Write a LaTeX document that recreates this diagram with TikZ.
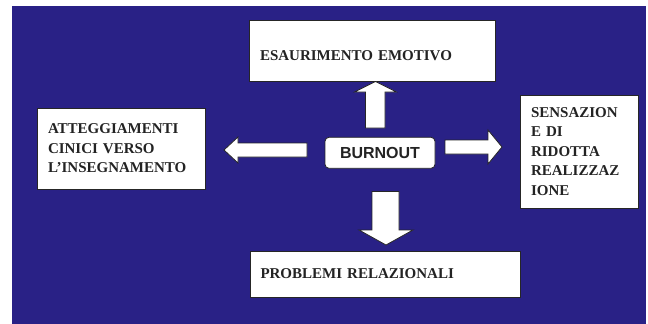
\documentclass[tikz,border=0pt]{standalone}
\usepackage{fontspec}
\setmainfont{Liberation Serif}
\setsansfont{Liberation Sans}
\usetikzlibrary{positioning}

\definecolor{bgblue}{RGB}{41,33,134}
\definecolor{inkgray}{RGB}{35,35,35}

\tikzset{
  box/.style={draw=black!85, fill=white, line width=0.8pt, align=left,
    inner xsep=11pt, text=inkgray,
    font=\fontsize{15}{19.4}\selectfont\bfseries},
  centerbox/.style={draw=black!85, fill=white, line width=0.8pt,
    rounded corners=4pt, text=inkgray,
    font=\sffamily\fontsize{16}{18}\selectfont\bfseries},
  blockarrow/.style={draw=black!85, fill=white, line width=0.8pt, line join=miter},
}

\begin{document}
\begin{tikzpicture}[x=1pt,y=-1pt]
    \useasboundingbox (0,0) rectangle (648,324);
    \fill[bgblue] (12,6) rectangle (646,324);
    % the five boxes
    \node[box, minimum width=246pt, minimum height=61pt, text width=224pt, text height=19pt, text depth=0pt] (emotivo) at (372,50.5) {ESAURIMENTO EMOTIVO};
    \node[box, minimum width=168pt, minimum height=81pt, text width=146pt] (cinici) at (121,148.5) {ATTEGGIAMENTI\\CINICI VERSO\\L'INSEGNAMENTO};
    \node[box, minimum width=118pt, minimum height=113pt, text width=96pt] (ridotta) at (579,151.5) {SENSAZION\\E DI\\RIDOTTA\\REALIZZAZ\\IONE};
    \node[box, minimum width=270pt, minimum height=46pt, text width=249pt, inner xsep=10.5pt] (relazioni) at (385,274) {PROBLEMI RELAZIONALI};
    \node[centerbox, minimum width=110pt, minimum height=31pt] (burnout) at (380,152.8) {BURNOUT};
    % block arrows
    \draw[blockarrow] (365.5,128) -- (365.5,92) -- (354.5,92) -- (375.5,81.5) -- (396.5,92) -- (385,92) -- (385,128) -- cycle;
    \draw[blockarrow] (307,143) -- (238,143) -- (238,137) -- (224,150) -- (238,163) -- (238,157) -- (307,157) -- cycle;
    \draw[blockarrow] (445,140) -- (488,140) -- (488,130) -- (502,147) -- (488,164) -- (488,154) -- (445,154) -- cycle;
    \draw[blockarrow] (372,191.5) -- (372,230) -- (359,230) -- (386,245) -- (413,230) -- (399,230) -- (399,191.5) -- cycle;
\end{tikzpicture}
\end{document}
